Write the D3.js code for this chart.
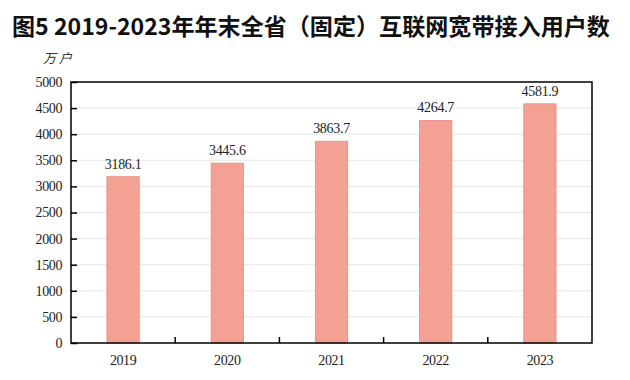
<!DOCTYPE html>
<html><head><meta charset="utf-8">
<script src="https://cdn.jsdelivr.net/npm/d3@7"></script>
<style>body{margin:0;background:#fff}svg{display:block}</style>
</head><body>
<svg id="c" width="630" height="380"></svg>
<script>
const years = ["2019","2020","2021","2022","2023"];
const users = [3186.1, 3445.6, 3863.7, 4264.7, 4581.9];
const yTicks = [0,500,1000,1500,2000,2500,3000,3500,4000,4500,5000];
const titleText = "图5 2019-2023年年末全省（固定）互联网宽带接入用户数";
const unitText = "万 户";

const svg = d3.select("#c");
const m = {l:71, r:592, t:82, b:343};
const x = d3.scaleBand().domain(years).range([m.l, m.r]).paddingInner(0.69).paddingOuter(0.345);
const y = d3.scaleLinear().domain([0,5000]).range([m.b, m.t]);
const serif = "'Liberation Serif','DejaVu Serif',serif";

const title = svg.append("text").attr("x",12).attr("y",35).attr("font-family","'Noto Sans CJK SC',sans-serif")
  .attr("font-weight","bold").attr("font-size",24).attr("fill","#111").text(titleText);
const tw = title.node().getComputedTextLength();
if (tw > 598) title.attr("font-size", 24*598/tw);

// gridlines
svg.append("g").selectAll("line").data(yTicks.filter(d=>d>0&&d<5000)).join("line")
  .attr("x1",m.l).attr("x2",m.r).attr("y1",d=>y(d)).attr("y2",d=>y(d))
  .attr("stroke","#e6e6e6").attr("stroke-width",1);

// bars
svg.append("g").selectAll("rect").data(users).join("rect")
  .attr("x",(d,i)=>x(years[i])).attr("width",x.bandwidth())
  .attr("y",d=>y(d)).attr("height",d=>y(0)-y(d))
  .attr("fill","#f4a092").attr("stroke","#e38b7d").attr("stroke-width",0.8);

// value labels
svg.append("g").selectAll("text").data(users).join("text")
  .attr("x",(d,i)=>x(years[i])+x.bandwidth()/2).attr("y",d=>y(d)-8)
  .attr("text-anchor","middle").attr("font-family",serif).attr("font-size",14)
  .attr("letter-spacing","-0.3").attr("fill","#222").text(d=>d.toFixed(1));

// frame
svg.append("rect").attr("x",m.l).attr("y",m.t).attr("width",m.r-m.l).attr("height",m.b-m.t)
  .attr("fill","none").attr("stroke","#000").attr("stroke-width",1.5);

// y axis
const ya = svg.append("g").attr("transform",`translate(${m.l},0)`)
  .call(d3.axisLeft(y).tickValues(yTicks).tickSize(-6).tickPadding(9).tickFormat(d3.format("d")));
ya.select(".domain").remove();
ya.selectAll("line").attr("stroke","#000").attr("stroke-width",1.5);
ya.selectAll("text").attr("font-family",serif).attr("font-size",14).attr("fill","#222").attr("letter-spacing","-0.4");

// x axis
const xa = svg.append("g").attr("transform",`translate(0,${m.b})`)
  .call(d3.axisBottom(x).tickSize(0).tickPadding(12));
xa.select(".domain").remove();
xa.selectAll("text").attr("font-family",serif).attr("font-size",14).attr("fill","#222").attr("letter-spacing","-0.4");
// category separator ticks
const step = x.step();
svg.append("g").selectAll("line").data(years.slice(1)).join("line")
  .attr("x1",d=>x(d)-x.paddingInner()*step/2).attr("x2",d=>x(d)-x.paddingInner()*step/2)
  .attr("y1",m.b).attr("y2",m.b-6).attr("stroke","#000").attr("stroke-width",1.5);

// unit
svg.append("text").attr("x",43).attr("y",63).attr("font-family","'Noto Sans CJK SC',serif")
  .attr("font-size",13).attr("font-style","italic").attr("fill","#333").text(unitText);
</script>
</body></html>
